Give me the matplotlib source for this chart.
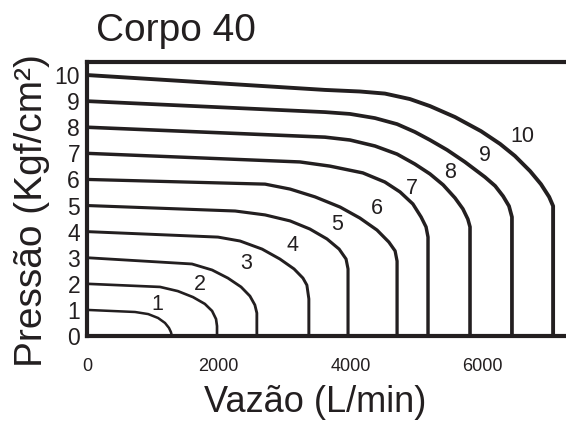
import numpy as np
import matplotlib
matplotlib.use("Agg")
import matplotlib.pyplot as plt

plt.rcParams['font.family'] = ['Liberation Sans', 'DejaVu Sans']

tinta = '#231f20'

# curvas vazão (L/min) x pressão (Kgf/cm²)
vazao_1 = [0, 730, 930, 1080, 1185, 1245, 1275, 1290]
press_1 = [1.0, 0.92, 0.84, 0.69, 0.50, 0.31, 0.15, 0.0]

vazao_2 = [0, 1110, 1380, 1610, 1790, 1900, 1960, 1975, 1975]
press_2 = [2.0, 1.88, 1.72, 1.49, 1.23, 0.96, 0.65, 0.38, 0.0]

vazao_3 = [0, 1595, 1900, 2140, 2340, 2475, 2550, 2580, 2580]
press_3 = [3.0, 2.76, 2.53, 2.22, 1.88, 1.53, 1.19, 0.88, 0.0]

vazao_4 = [0, 1990, 2325, 2660, 2930, 3145, 3280, 3340, 3370, 3370]
press_4 = [4.0, 3.79, 3.64, 3.33, 2.95, 2.57, 2.22, 1.95, 1.42, 0.0]

vazao_5 = [0, 2250, 2705, 3085, 3385, 3645, 3830, 3935, 3965, 3965]
press_5 = [5.0, 4.79, 4.64, 4.41, 4.10, 3.72, 3.33, 2.95, 2.57, 0.0]

vazao_6 = [0, 2705, 3085, 3465, 3845, 4145, 4405, 4585, 4680, 4710, 4710]
press_6 = [6.0, 5.82, 5.63, 5.33, 4.94, 4.52, 4.06, 3.60, 3.26, 2.87, 0.0]

vazao_7 = [0, 3235, 3690, 4190, 4525, 4755, 4950, 5075, 5150, 5180, 5180]
press_7 = [7.0, 6.67, 6.51, 6.25, 5.90, 5.52, 5.06, 4.56, 4.18, 3.79, 0.0]

vazao_8 = [0, 3615, 3995, 4375, 4710, 4980, 5210, 5410, 5590, 5710, 5785, 5818, 5818]
press_8 = [8.0, 7.62, 7.51, 7.28, 6.97, 6.59, 6.21, 5.79, 5.29, 4.87, 4.48, 4.18, 0.0]

vazao_9 = [0, 3615, 3995, 4375, 4710, 4980, 5210, 5470, 5740, 6045, 6200, 6320, 6410, 6455, 6455]
press_9 = [9.0, 8.58, 8.51, 8.35, 8.12, 7.82, 7.51, 7.13, 6.67, 6.09, 5.75, 5.36, 4.98, 4.56, 0.0]

vazao_10 = [0, 3615, 4145, 4525, 4905, 5210, 5590, 5985, 6275, 6500, 6730, 6895, 7020, 7080, 7080]
press_10 = [10.0, 9.43, 9.37, 9.29, 9.08, 8.81, 8.39, 7.85, 7.36, 6.90, 6.32, 5.82, 5.33, 4.98, 0.0]

curvas = [(vazao_1, press_1), (vazao_2, press_2), (vazao_3, press_3),
          (vazao_4, press_4), (vazao_5, press_5), (vazao_6, press_6),
          (vazao_7, press_7), (vazao_8, press_8), (vazao_9, press_9),
          (vazao_10, press_10)]
rotulos = ['1', '2', '3', '4', '5', '6', '7', '8', '9', '10']
# onde fica o número de cada curva
pos_rotulos = [(1063, 1.19), (1716, 1.99), (2415, 2.76), (3129, 3.45),
               (3798, 4.29), (4405, 4.87), (4937, 5.67), (5514, 6.28),
               (6046, 6.90), (6608, 7.66)]

x_ticks = [0, 2000, 4000, 6000]
y_ticks = list(range(0, 11))

fig = plt.figure(figsize=(5.66, 4.22), dpi=100)
ax = fig.add_axes([87 / 566, 1 - 336 / 422, 1 - 87 / 566, 274 / 422])

larguras = np.linspace(1.8, 2.8, len(curvas))
for (vx, py), lw in zip(curvas, larguras):
    ax.plot(vx, py, color=tinta, lw=lw, solid_joinstyle='round',
            solid_capstyle='butt')

for txt, (tx, ty) in zip(rotulos, pos_rotulos):
    ax.text(tx, ty, txt, fontsize=15.5, color=tinta, ha='center', va='center')

ax.set_xlim(0, 7276)
ax.set_ylim(0, 10.5)
ax.set_xticks(x_ticks)
ax.set_xticklabels([str(v) for v in x_ticks])
ax.set_yticks(y_ticks)
ax.set_yticklabels([str(v) for v in y_ticks])
ax.tick_params(axis='x', length=0, pad=16, labelsize=13, colors=tinta)
ax.tick_params(axis='y', length=0, pad=5, labelsize=16.5, colors=tinta)

for lado in ['left', 'top', 'bottom']:
    ax.spines[lado].set_linewidth(3)
    ax.spines[lado].set_color(tinta)
ax.spines['right'].set_visible(False)

fig.text(96 / 566, 1 - 41 / 422, 'Corpo 40', fontsize=28, color=tinta,
         ha='left', va='baseline')
fig.text(315 / 566, 1 - 412 / 422, 'Vazão (L/min)', fontsize=26, color=tinta,
         ha='center', va='baseline')
fig.text(42 / 566, 0.5, 'Pressão (Kgf/cm²)', fontsize=28, color=tinta,
         rotation=90, rotation_mode='anchor', ha='center', va='baseline')

fig.savefig('out.png', dpi=100)
